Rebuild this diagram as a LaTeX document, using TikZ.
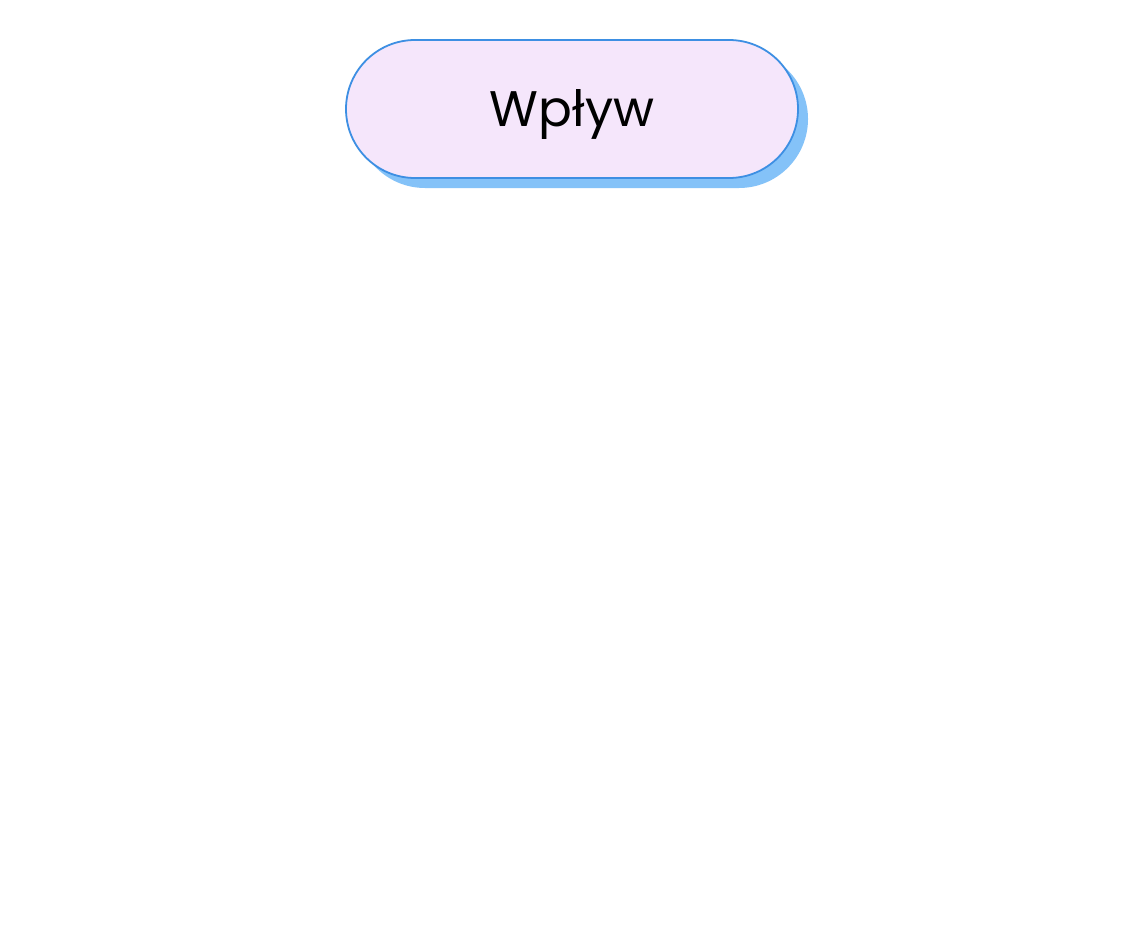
\documentclass[tikz,border=0pt]{standalone}
\usepackage{fontspec}
\setmainfont{Poppins}
\usetikzlibrary{shapes.misc,shadows}
\definecolor{pillfill}{HTML}{F5E6FB}
\definecolor{pillline}{HTML}{3D8FE3}
\definecolor{pillshadow}{HTML}{84C2F8}
\tikzset{
  pill/.style={rounded rectangle, draw=pillline, line width=1.8pt, fill=pillfill,
    minimum width=452pt, minimum height=138pt, inner sep=0pt,
    text height=46pt, text depth=10pt,
    font=\fontsize{50}{56}\selectfont,
    drop shadow={shadow xshift=10pt, shadow yshift=-10pt, fill=pillshadow, opacity=1}}
}
\begin{document}
\begin{tikzpicture}[x=1pt,y=-1pt]
  \useasboundingbox[fill=white] (0,0) rectangle (1147,928);
  \node[pill] (wplyw) at (572,109) {Wpływ};
\end{tikzpicture}
\end{document}
